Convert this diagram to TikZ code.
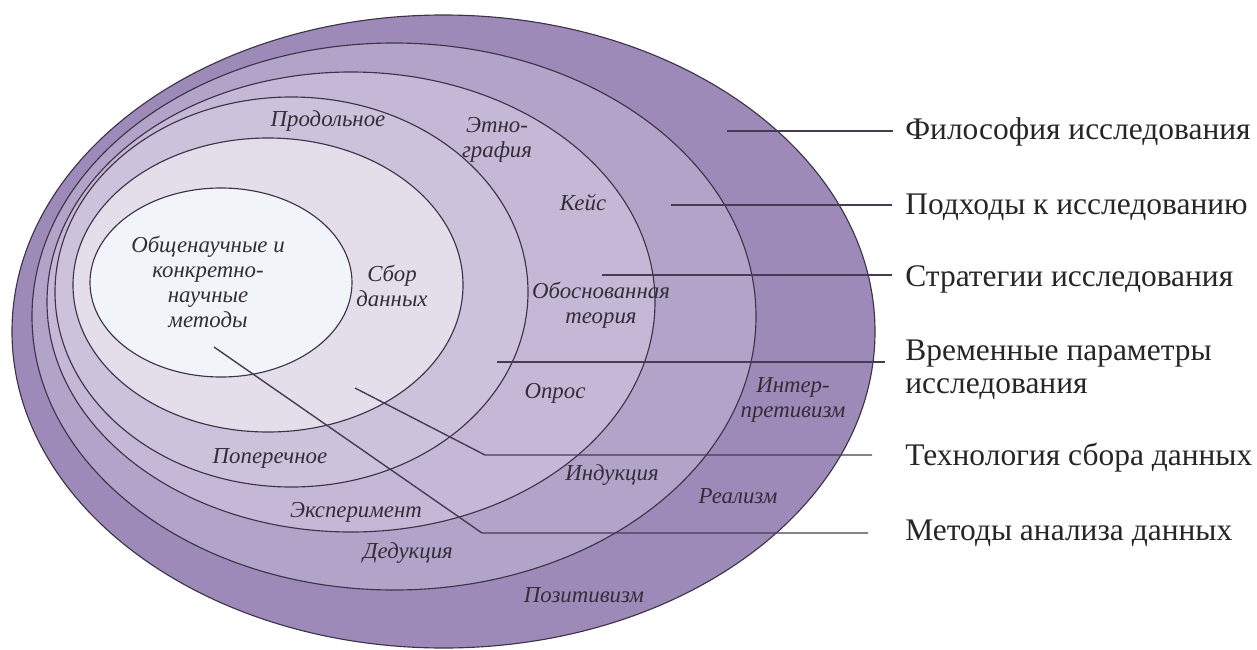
\documentclass[tikz,border=0pt]{standalone}
\usepackage{fontspec}
\setmainfont{Liberation Serif}

\definecolor{philo}{RGB}{158,138,184}
\definecolor{appro}{RGB}{178,164,200}
\definecolor{strat}{RGB}{197,184,214}
\definecolor{horiz}{RGB}{204,194,220}
\definecolor{techn}{RGB}{227,222,234}
\definecolor{core}{RGB}{241,244,249}
\definecolor{edge}{RGB}{62,52,74}
\definecolor{leadcol}{RGB}{70,60,84}
\definecolor{inktext}{RGB}{50,45,55}

\begin{document}
\begin{tikzpicture}[x=0.02cm,y=-0.02cm,
  layer/.style={draw=edge,line width=0.65pt},
  inlabel/.style={font=\fontsize{13}{14.2}\selectfont\itshape,text=inktext,align=center,inner sep=0pt},
  outlabel/.style={font=\fontsize{17.9}{18.7}\selectfont,text=black!85,anchor=west,align=left,inner sep=0pt},
  leader/.style={draw=leadcol,line width=0.8pt}]

\useasboundingbox (0,0) rectangle (1257,649);

% Layers of the onion, outermost first
\filldraw[layer,fill=philo] (443.5,331.5) ellipse [x radius=431.5,y radius=316.5];
\filldraw[layer,fill=appro] (394,316.5) ellipse [x radius=362,y radius=273.5];
\filldraw[layer,fill=strat] (351,302) ellipse [x radius=304,y radius=230];
\filldraw[layer,fill=horiz] (291.5,292) ellipse [x radius=236.5,y radius=195];
\filldraw[layer,fill=techn] (268,285) ellipse [x radius=195,y radius=147];
\filldraw[layer,fill=core] (221,282.5) ellipse [x radius=131,y radius=94.5];

% Philosophy
\node[inlabel] (pos) at (584,595) {Позитивизм};
\node[inlabel] (real) at (738,496) {Реализм};
\node[inlabel] (interp) at (793,400) {Интер-\\претивизм};

% Approaches
\node[inlabel] (ded) at (408,553) {Дедукция};
\node[inlabel] (ind) at (612,475) {Индукция};

% Strategies
\node[inlabel] (exper) at (356,512) {Эксперимент};
\node[inlabel] (ethno) at (497,140) {Этно-\\графия};
\node[inlabel] (case) at (583,203) {Кейс};
\node[inlabel] (ground) at (601,305) {Обоснованная\\теория};
\node[inlabel] (survey) at (555,393) {Опрос};

% Time horizons
\node[inlabel] (longit) at (328,121) {Продольное};
\node[inlabel] (cross) at (270,458) {Поперечное};

% Data collection and methods
\node[inlabel] (collect) at (392,286) {Сбор\\данных};
\node[inlabel] (methods) at (208,282) {Общенаучные и\\конкретно-\\научные\\методы};

% Layer names on the right
\node[outlabel] (philname) at (905,132) {Философия исследования};
\node[outlabel] (appname) at (905,207) {Подходы к исследованию};
\node[outlabel] (stratname) at (905,279) {Стратегии исследования};
\node[outlabel] (timename) at (905,370) {Временные параметры\\исследования};
\node[outlabel] (techname) at (905,458) {Технология сбора данных};
\node[outlabel] (methname) at (905,533) {Методы анализа данных};

% Leader lines
\coordinate (s1) at (727,131);
\coordinate (s2) at (671,205);
\coordinate (s3) at (602,275);
\coordinate (s4) at (497,362);
\coordinate (s5) at (355,388);
\coordinate (b5) at (485,455);
\coordinate (s6) at (214,347);
\coordinate (b6) at (482,533);

\draw[leader,shorten >=0.24cm] (s1) -- (s1 -| philname.west);
\draw[leader,shorten >=0.26cm] (s2) -- (s2 -| appname.west);
\draw[leader,shorten >=0.26cm] (s3) -- (s3 -| stratname.west);
\draw[leader,shorten >=0.4cm] (s4) -- (s4 -| timename.west);
\draw[leader,shorten >=0.66cm] (s5) -- (b5) -- (b5 -| techname.west);
\draw[leader,shorten >=0.74cm] (s6) -- (b6) -- (b6 -| methname.west);
\end{tikzpicture}
\end{document}
